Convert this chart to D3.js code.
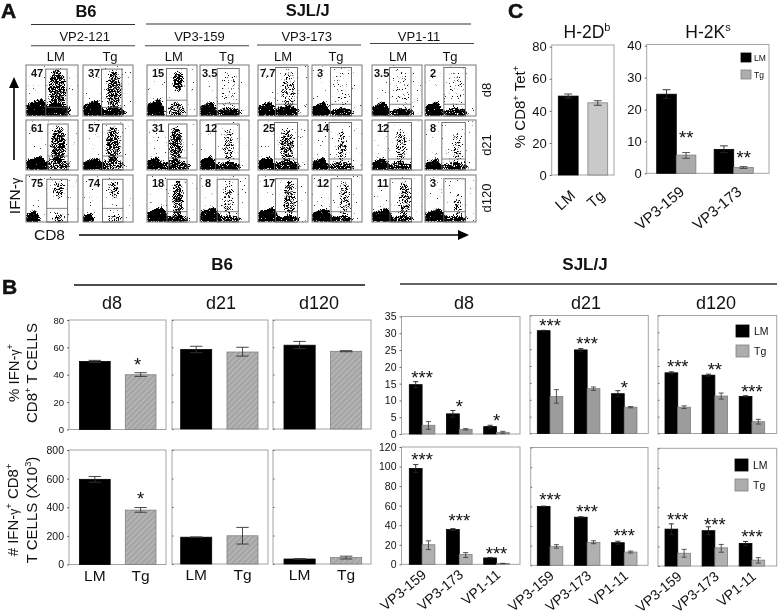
<!DOCTYPE html>
<html><head><meta charset="utf-8">
<script src="https://cdn.jsdelivr.net/npm/d3@7"></script>
<style>
html,body{margin:0;padding:0;background:#fff}
svg{display:block;filter:blur(0.35px)}
text{font-family:"Liberation Sans",Arial,sans-serif;fill:#111}
</style></head><body>
<svg id="c" width="778" height="615"></svg>
<script>
// ---------- data: panel A (flow plots; local units are percent of the plot) ----------
const flowEpitopes=['VP2-121','VP3-159','VP3-173','VP1-11'];
const flowDays=['d8','d21','d120'];
const flowGroups=['LM','Tg','LM','Tg','LM','Tg','LM','Tg'];
const flowPercent=[
 ['47','37','15','3.5','7.7','3','3.5','2'],
 ['61','57','31','12','25','14','12','8'],
 ['75','74','18','8','17','12','11','3']];
// gate [left,right,top,split]
const flowGates=[
 [[38,79,8,83],[37,78,8,83],[39,80,7,69],[35,80,7,76],[35,79,5,77],[37,79,5,77],[35,78,5,77],[37,79,5,77]],
 [[42,81,8,72],[39,80,8,72],[43,80,8,76],[32,80,8,78],[33,79,5,78],[34,79,5,78],[32,79,5,78],[33,79,5,78]],
 [[40,80,9,71],[39,80,9,71],[40,80,9,78],[35,78,9,78],[35,79,8,78],[38,79,8,78],[36,79,8,78],[37,79,8,78]]];
// lower-left population [width,height]
const flowCore=[
 [[38,30],[35,28],[30,30],[30,25],[30,25],[30,25],[30,25],[30,25]],
 [[35,25],[35,22],[25,25],[28,25],[28,25],[28,22],[28,22],[28,20]],
 [[22,22],[18,18],[35,28],[35,28],[35,28],[35,26],[35,26],[35,26]]];
// CD8+ IFN-negative band [centre,halfWidth,height,strength]
const flowBase=[
 [[58,28,24,.9],[62,24,18,.85],[58,18,26,.5],[60,24,16,.85],[58,24,20,.85],[60,24,16,.8],[60,24,16,.8],[60,24,16,.8]],
 [[60,24,26,.55],[58,26,22,.55],[55,32,20,.7],[58,27,16,.8],[58,27,20,.75],[58,27,16,.65],[55,27,16,.7],[58,27,16,.7]],
 [[62,14,18,.45],[62,14,18,.45],[58,26,14,.75],[58,26,14,.7],[58,26,14,.75],[58,26,14,.7],[58,26,14,.7],[58,26,14,.7]]];
// IFN-positive column [centre,top,bottom,halfWidth,strength]
const flowColumn=[
 [[60,8,92,17,.62],[62,10,92,15,.58],[62,10,55,11,.62],[60,12,85,18,.2],[60,12,85,15,.38],[60,12,85,17,.2],[60,12,85,17,.18],[60,12,85,17,.16]],
 [[62,12,88,15,.62],[60,12,85,15,.58],[58,12,85,14,.58],[58,18,85,11,.42],[58,18,85,15,.5],[60,18,85,10,.44],[58,18,85,11,.44],[62,22,85,9,.38]],
 [[62,12,50,12,.46],[62,12,50,12,.46],[62,10,98,11,.58],[58,12,90,11,.38],[63,12,92,12,.52],[65,12,90,11,.4],[65,12,92,12,.5],[65,36,90,8,.34]]];

// ---------- data: panel B ----------
const groupNames=['LM','Tg'];
const epitopesB=['VP3-159','VP3-173','VP1-11'];
const dayNames=['d8','d21','d120'];
const b6PctTicks=[0,20,40,60,80];
const b6NumTicks=[0,200,400,600,800];
const b6Pct=[[49.7,40],[58.3,56.5],[61.5,57]];
const b6PctErr=[[[49,50.5],[38.8,41.5]],[[56,60.7],[53.5,60]],[[59,64.3],[56.7,57.5]]];
const b6Num=[[595,380],[188,198],[35,45]];
const b6NumErr=[[[575,615],[365,398]],[[186,190],[140,257]],[[32,38],[35,55]]];

const sjlPctTicks=[0,5,10,15,20,25,30,35];
const sjlNumTicks=[0,20,40,60,80,100,120];
const sjlPctLM=[[14.7,6,2.2],[30.5,24.8,11.8],[18,17.3,11]];
const sjlPctTg=[[2.6,1.4,.5],[11,13.3,7.8],[7.8,11.1,3.5]];
const sjlPctLMErr=[[[13.8,15.6],[5,7],[1.8,2.6]],[[30.4,30.6],[24.4,25.2],[10.9,12.7]],[[17.7,18.3],[17,17.6],[10.8,11.2]]];
const sjlPctTgErr=[[[1.4,3.7],[1.2,1.6],[.2,.8]],[[9,13],[12.8,13.8],[7.6,8]],[[7.4,8.2],[10.2,12],[2.8,4.2]]];
const sjlPctStarText=[['***','*','*'],['***','***','*'],['***','**','***']];
const sjlPctStarLevel=[[17.8,9,5],[33,27.5,14.7],[20.7,20,13.3]];
const sjlNumLM=[[98,35.5,6.5],[60,49,23],[37.6,36,23]];
const sjlNumTg=[[20,10,.8],[19,23.3,13.5],[13,18.5,6]];
const sjlNumLMErr=[[[94,102],[34.5,36.5],[6,7]],[[59.7,60.3],[48.5,49.5],[21.5,24.5]],[[32,43],[32,40],[21,25]]];
const sjlNumTgErr=[[[15,24],[7,12],[.6,1]],[[17.5,21],[22,25],[12.5,14.5]],[[9,17],[14,22],[3,8.5]]];
const sjlNumStarText=[['***','***','***'],['***','***','***'],['***','***','***']];
const sjlNumStarLevel=[[110,48,14],[70,58,34],[51,46,33]];

// ---------- data: panel C ----------
const cLeftTicks=[0,20,40,60,80];
const cLeftValues=[49.2,45];
const cLeftErr=[[48,50.5],[43.5,46.3]];
const cRightTicks=[0,10,20,30,40];
const cEpitopes=['VP3-159','VP3-173'];
const cRightLM=[24.8,7.5];
const cRightTg=[5.7,1.8];
const cRightLMErr=[[23.5,26.2],[6.5,8.6]];
const cRightTgErr=[[4.7,6.5],[1.5,2.1]];
const cRightStars=['**','**'];
const cRightStarLevel=[12.3,6];

// ---------- drawing ----------
const svg=d3.select('#c');
const defs=svg.append('defs');

// density texture for the flow plots: blob density + browser noise, thresholded into speckle
const f=defs.append('filter').attr('id','speckle').attr('x','-5%').attr('y','-5%').attr('width','110%').attr('height','110%')
  .attr('color-interpolation-filters','sRGB');
f.append('feTurbulence').attr('type','fractalNoise').attr('baseFrequency','1.25').attr('numOctaves',2).attr('seed',11).attr('result','t');
f.append('feColorMatrix').attr('in','t').attr('type','matrix').attr('values','0 0 0 0 0 0 0 0 0 0 0 0 0 0 0 1.6 0 0 0 -0.3').attr('result','n');
f.append('feGaussianBlur').attr('in','SourceAlpha').attr('stdDeviation',1.1).attr('result','b');
f.append('feComposite').attr('in','b').attr('in2','n').attr('operator','arithmetic').attr('k1',0).attr('k2',1).attr('k3',1).attr('k4',-0.5).attr('result','s');
const ct=f.append('feComponentTransfer').attr('in','s').attr('result','th');
ct.append('feFuncA').attr('type','linear').attr('slope',7).attr('intercept',-3.4);
f.append('feFlood').attr('flood-color','#000').attr('result','k');
f.append('feComposite').attr('in','k').attr('in2','th').attr('operator','in');

const hatch=defs.append('pattern').attr('id','hatch').attr('width',4).attr('height',4)
  .attr('patternUnits','userSpaceOnUse').attr('patternTransform','rotate(-45)');
hatch.append('rect').attr('width',4).attr('height',4).attr('fill','#a6a6a6');
hatch.append('rect').attr('width',4).attr('height',1).attr('fill','#bdbdbd');

function txt(g,x,y,s,size,opt={}){
  const t=g.append('text').attr('x',x).attr('y',y).attr('font-size',size)
    .attr('text-anchor',opt.anchor||'middle').text(s);
  if(opt.bold)t.attr('font-weight','bold');
  if(opt.rotate!=null)t.attr('transform',`rotate(${opt.rotate} ${x} ${y})`);
  return t;
}
function hline(x0,x1,y,w,c){svg.append('line').attr('x1',x0).attr('x2',x1).attr('y1',y).attr('y2',y).attr('stroke',c||'#222').attr('stroke-width',w);}
function rich(x,y,parts,size,rotate,anchor){
  const t=svg.append('text').attr('font-size',size).attr('text-anchor',anchor||'middle')
    .attr('transform',`translate(${x},${y}) rotate(${rotate||0})`);
  let up=0;
  parts.forEach(p=>{
    const ts=t.append('tspan').text(p[0]);
    const want=p[1]==='sup'?-size*.38:0;
    ts.attr('dy',want-up); up=want;
    if(p[1]==='sup')ts.attr('font-size',size*.62);
    if(p[1]==='small')ts.attr('font-size',size*.8);
  });
  return t;
}
function slant(sel,dx,dy,rot){
  sel.attr('text-anchor','end').attr('x',0).attr('y',0).attr('dx',0).attr('dy',0)
    .attr('transform',`translate(${dx},${dy}) rotate(${rot})`);
}

// ---- panel A ----
const flowX=[[26,78],[83,133],[147,197],[200,249],[258,308],[312,362],[372,422],[425,476]];
const flowY=[[65,116],[120,170],[175,222]];
const panelA=svg.append('g');
flowDays.forEach((day,r)=>{
  flowGroups.forEach((grp,c)=>{
    const x=d3.scaleLinear().domain([0,100]).range(flowX[c]);
    const y=d3.scaleLinear().domain([0,100]).range(flowY[r]);
    const id=`clip${r}${c}`;
    defs.append('clipPath').attr('id',id).append('rect')
      .attr('x',x(0)).attr('y',y(0)).attr('width',x(100)-x(0)).attr('height',y(100)-y(0));
    const outer=panelA.append('g').attr('clip-path',`url(#${id})`);
    const g=outer.append('g').attr('filter','url(#speckle)');
    g.append('rect').attr('x',x(0)).attr('y',y(0)).attr('width',x(100)-x(0)).attr('height',y(100)-y(0)).attr('fill','#000').attr('opacity',.1);
    const [cw,ch]=flowCore[r][c];
    const coreLine=d3.line().x(d=>x(d[0])).y(d=>y(d[1]));
    g.append('path').attr('fill','#000').attr('d',coreLine([[0,100],[0,100-ch*.75],[cw*.85,100-ch*1.15],[cw*1.2,100-ch*.4],[cw*1.2,100]])+'Z');
    const [bc,bw,bh,bs]=flowBase[r][c];
    g.append('ellipse').attr('cx',x(bc)).attr('cy',y(100-bh*.4)).attr('rx',x(bw)-x(0)).attr('ry',y(100)-y(100-bh*.6)).attr('fill','#000').attr('opacity',bs);
    const [kc,kt,kb,kw,ks]=flowColumn[r][c];
    g.append('ellipse').attr('cx',x(kc)).attr('cy',y((kt+kb)/2)).attr('rx',x(kw)-x(0)).attr('ry',y(100)-y(100-(kb-kt)/2)).attr('fill','#000').attr('opacity',ks);
    panelA.append('rect').attr('x',x(0)).attr('y',y(0)).attr('width',x(100)-x(0)).attr('height',y(100)-y(0))
      .attr('fill','none').attr('stroke','#777').attr('stroke-width',1);
    const [gl,gr,gt,gs]=flowGates[r][c];
    panelA.append('rect').attr('x',x(gl)).attr('y',y(gt)).attr('width',x(gr)-x(gl)).attr('height',y(100)-y(gt))
      .attr('fill','none').attr('stroke','#666').attr('stroke-width',.9);
    panelA.append('line').attr('x1',x(gl)).attr('x2',x(gr)).attr('y1',y(gs)).attr('y2',y(gs)).attr('stroke','#666').attr('stroke-width',.8);
    const pct=flowPercent[r][c];
    txt(panelA,x(0)+(pct.length>2?2:5),y(0)+12,pct,11,{anchor:'start',bold:true});
  });
});
const flowLabelX=[55.7,110,173.7,226.7,283,336,398,450];
flowGroups.forEach((g,i)=>txt(svg,flowLabelX[i],61,g,13));
const epiCentre=[84.7,199.5,306.7,419];
const epiLine=[[31,135,45.7],[145,249,45.7],[257,361,45],[370,474,43.5]];
flowEpitopes.forEach((e,i)=>{
  txt(svg,epiCentre[i],41,e,13);
  hline(epiLine[i][0],epiLine[i][1],epiLine[i][2],1.1,'#444');
});
txt(svg,86,17,'B6',16.5,{bold:true});
txt(svg,307.7,16,'SJL/J',16.5,{bold:true});
hline(31,135,24.5,1.1,'#333');
hline(146,471,24,1.1,'#333');
[[90,'d8'],[145,'d21'],[198,'d120']].forEach(d=>txt(svg,491,d[0],d[1],13,{rotate:-90}));
svg.append('line').attr('x1',14).attr('x2',14).attr('y1',160).attr('y2',84).attr('stroke','#000').attr('stroke-width',1.6);
svg.append('path').attr('d','M14 77 L9 88 L19 88 Z').attr('fill','#000');
svg.append('line').attr('x1',79).attr('x2',460).attr('y1',235).attr('y2',235).attr('stroke','#000').attr('stroke-width',1.6);
svg.append('path').attr('d','M469 235 L458 230 L458 240 Z').attr('fill','#000');
rich(20,196,[['IFN-',null],['γ','small']],15.5,-90);
txt(svg,49.5,240,'CD8',15.5);

// ---- panel letters ----
[['A',1,18],['B',2,294],['C',508,18]].forEach(l=>{
  txt(svg,l[1],l[2],l[0],21,{anchor:'start',bold:true}).attr('stroke','#111').attr('stroke-width',.5);
});

// ---- bar panels ----
function yAxisPanel(box,domainMax,ticks,fontSize,showLabels){
  const [x0,x1,y0,y1]=box;
  const y=d3.scaleLinear().domain([0,domainMax]).range([y1,y0]);
  const g=svg.append('g');
  g.append('rect').attr('x',x0).attr('y',y0).attr('width',x1-x0).attr('height',y1-y0)
    .attr('fill','#fff').attr('stroke','#a3a3a3').attr('stroke-width',1);
  const a=g.append('g').attr('transform',`translate(${x0},0)`)
    .call(d3.axisLeft(y).tickValues(ticks).tickSize(showLabels?2:-1.5).tickPadding(3).tickFormat(showLabels?d3.format('d'):()=>''));
  a.select('.domain').remove();
  a.selectAll('line').attr('stroke','#666');
  a.selectAll('text').attr('font-size',fontSize).attr('font-family','"Liberation Sans",Arial,sans-serif').attr('fill','#222');
  return y;
}
function bar(g,x,w,y,base,v,err,fill,stroke,errColor){
  g.append('rect').attr('x',x).attr('y',y(v)).attr('width',w).attr('height',base-y(v)).attr('fill',fill).attr('stroke',stroke).attr('stroke-width',.8);
  if(err){
    const cx=x+w/2,cap=w*.2;
    g.append('path').attr('fill','none').attr('stroke',errColor).attr('stroke-width',.9)
      .attr('d',`M${cx-cap} ${y(err[1])}H${cx+cap}M${cx} ${y(err[1])}V${y(err[0])}M${cx-cap} ${y(err[0])}H${cx+cap}`);
  }
}
function star(g,x,y,s,size){
  g.append('text').attr('x',x).attr('y',y+size*.52).attr('text-anchor','middle').attr('font-size',size).text(s);
}
function twoBar(box,xr,domainMax,ticks,vals,errs,opt){
  const y=yAxisPanel(box,domainMax,ticks,opt.fs,opt.labels);
  const x=d3.scaleBand().domain(groupNames).range(xr).paddingInner(.33);
  const g=svg.append('g');
  groupNames.forEach((n,i)=>{
    bar(g,x(n),x.bandwidth(),y,y(0),vals[i],errs[i],i?opt.tg:'#000',i?'#808080':'#000','#333');
  });
  if(opt.star)star(g,x('Tg')+x.bandwidth()/2+opt.star[1],y(opt.star[0]),'*',18.5);
  if(opt.names){
    const a=svg.append('g').attr('transform',`translate(0,${box[3]})`).call(d3.axisBottom(x).tickSize(0).tickPadding(opt.pad||5));
    a.select('.domain').remove();
    a.selectAll('text').attr('font-size',opt.nameSize||15.5).attr('font-family','"Liberation Sans",Arial,sans-serif').attr('fill','#111');
    if(opt.slant)slant(a.selectAll('text'),...opt.slant);
  }
  return y;
}
function groupBar(box,xr,domainMax,ticks,names,lm,tg,lmErr,tgErr,starText,starLevel,opt){
  const y=yAxisPanel(box,domainMax,ticks,opt.fs,opt.labels);
  const outer=d3.scaleBand().domain(names).range(xr).paddingInner(opt.gap||.312);
  const inner=d3.scaleBand().domain(groupNames).range([0,outer.bandwidth()]);
  const g=svg.append('g');
  names.forEach((n,i)=>{
    bar(g,outer(n)+inner('LM'),inner.bandwidth(),y,y(0),lm[i],lmErr[i],'#000','#000','#222');
    bar(g,outer(n)+inner('Tg'),inner.bandwidth(),y,y(0),tg[i],tgErr[i],opt.tg,'#7e7e7e','#444');
    star(g,outer(n)+outer.bandwidth()/2+(opt.sdx||0),y(starLevel[i]),starText[i],opt.starSize||18.5);
  });
  if(opt.names){
    const a=svg.append('g').attr('transform',`translate(0,${box[3]})`).call(d3.axisBottom(outer).tickSize(0));
    a.select('.domain').remove();
    a.selectAll('text').attr('font-size',opt.nameSize||14).attr('font-family','"Liberation Sans",Arial,sans-serif').attr('fill','#111');
    slant(a.selectAll('text'),...(opt.slant||[5,12,-40]));
  }
  return y;
}
function legend(x,yLM,yTg,w,h,size,tx){
  [[yLM,'#000','#000','LM'],[yTg,'#adadad','#808080','Tg']].forEach(d=>{
    svg.append('rect').attr('x',x).attr('y',d[0]).attr('width',w).attr('height',h).attr('fill',d[1]).attr('stroke',d[2]).attr('stroke-width',.8);
    txt(svg,x+w+(tx||4),d[0]+h/2+size*.36,d[3],size,{anchor:'start'});
  });
}

// B6
const b6Boxes1=[[69,166,320,429.5],[172,268,320,429],[273,371,320,429]];
const b6Boxes2=[[69,166,450,564.5],[172,268,450,564],[273,371,450,564]];
const b6Ranges=[[79.5,156],[180.7,258],[284,361.7]];
dayNames.forEach((d,i)=>{
  twoBar(b6Boxes1[i],b6Ranges[i],80,b6PctTicks,b6Pct[i],b6PctErr[i],
    {fs:9.5,labels:i===0,tg:'url(#hatch)',star:i===0?[49.5,-3]:null});
  twoBar(b6Boxes2[i],b6Ranges[i],800,b6NumTicks,b6Num[i],b6NumErr[i],
    {fs:10.5,labels:i===0,tg:'url(#hatch)',names:true,star:i===0?[485,0]:null});
});
[[112],[221],[319]].forEach((p,i)=>txt(svg,p[0],309,dayNames[i],18));
txt(svg,222,270,'B6',17,{bold:true});
hline(74,365,285,1.7,'#111');
txt(svg,585,270,'SJL/J',17,{bold:true});
hline(400,777,284,1.7,'#333');
rich(19,373,[['% IFN-',null],['γ','small'],['+','sup']],15,-90);
rich(37,373,[['CD8',null],['+','sup'],[' T CELLS',null]],15,-90);
rich(18,510,[['# IFN-',null],['γ','small'],['+','sup'],[' CD8',null],['+','sup']],15,-90);
rich(37,510,[['T CELLS (X10',null],['3','sup'],[')',null]],15,-90);

// SJL/J
const sjlBoxes1=[[401.5,520,316.5,434],[530,648.3,315.5,433.5],[658,776.7,315.5,433.5]];
const sjlBoxes2=[[401.5,520,447,564.3],[530.7,648,447.5,565.3],[658,776.7,448.3,566]];
const sjlRanges=[[409.3,509.3],[537.3,637],[665,764.7]];
dayNames.forEach((d,i)=>{
  groupBar(sjlBoxes1[i],sjlRanges[i],35,sjlPctTicks,epitopesB,sjlPctLM[i],sjlPctTg[i],sjlPctLMErr[i],sjlPctTgErr[i],sjlPctStarText[i],sjlPctStarLevel[i],
    {fs:10.5,labels:i===0,tg:'#9c9c9c'});
  groupBar(sjlBoxes2[i],sjlRanges[i],120,sjlNumTicks,epitopesB,sjlNumLM[i],sjlNumTg[i],sjlNumLMErr[i],sjlNumTgErr[i],sjlNumStarText[i],sjlNumStarLevel[i],
    {fs:10.5,labels:i===0,tg:'#b0b0b0',names:true});
});
[[464],[586],[716]].forEach((p,i)=>txt(svg,p[0],309,dayNames[i],18));
legend(736,325,345,13,12,10.5,5);
legend(735,459,479,13,12,10.5,5);

// panel C
txt(svg,587,38,'H-2D',17.5).append('tspan').attr('font-size',11).attr('dy',-7).text('b');
txt(svg,708,38,'H-2K',17.5).append('tspan').attr('font-size',11).attr('dy',-7).text('s');
rich(525,107,[['% CD8',null],['+','sup'],[' Tet',null],['+','sup']],15,-90);
twoBar([551.7,614,45,175],[558.3,607.7],80*130/128.3,cLeftTicks,cLeftValues,cLeftErr,
  {fs:13,labels:true,tg:'#c9c9c9',names:true,slant:[8,22,-42],nameSize:15});
groupBar([646.7,769,44.5,173.3],[656.7,753.3],40*128.8/127.6,cRightTicks,cEpitopes,cRightLM,cRightTg,cRightLMErr,cRightTgErr,cRightStars,cRightStarLevel,
  {fs:13,labels:true,tg:'#ababab',names:true,gap:.318,sdx:10,slant:[9,20,-40],nameSize:15});
legend(741,53,70,10,9,8.5,3);
</script>
</body></html>
